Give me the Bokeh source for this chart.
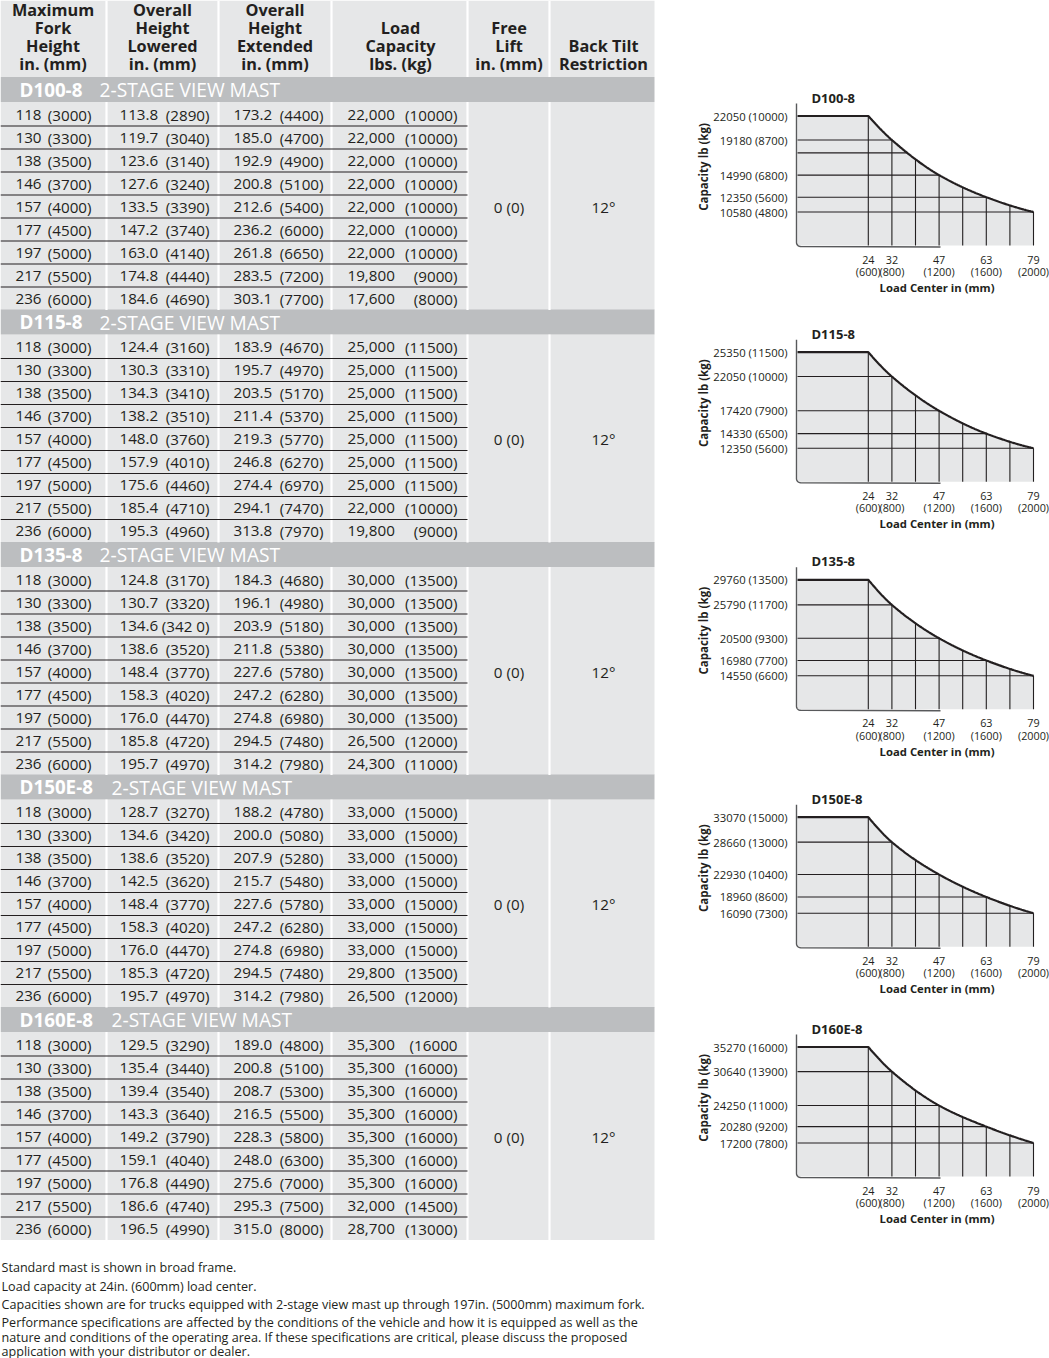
import numpy as np
from bokeh.plotting import figure
from bokeh.layouts import row, column
from bokeh.models import FixedTicker, Range1d
from bokeh.core.properties import value
from bokeh.embed import file_html
from bokeh.resources import INLINE

# ---------------- data ----------------
models = ["D100-8", "D115-8", "D135-8", "D150E-8", "D160E-8"]
mast_name = "2-STAGE VIEW MAST"

header_fork = ["Maximum", "Fork", "Height", "in. (mm)"]
header_lowered = ["Overall", "Height", "Lowered", "in. (mm)"]
header_extended = ["Overall", "Height", "Extended", "in. (mm)"]
header_capacity = ["Load", "Capacity", "lbs. (kg)"]
header_free_lift = ["Free", "Lift", "in. (mm)"]
header_back_tilt = ["Back Tilt", "Restriction"]

fork_height = ["118 (3000)", "130 (3300)", "138 (3500)", "146 (3700)", "157 (4000)",
               "177 (4500)", "197 (5000)", "217 (5500)", "236 (6000)"]

height_lowered = {
    "D100-8": ["113.8 (2890)", "119.7 (3040)", "123.6 (3140)", "127.6 (3240)", "133.5 (3390)",
               "147.2 (3740)", "163.0 (4140)", "174.8 (4440)", "184.6 (4690)"],
    "D115-8": ["124.4 (3160)", "130.3 (3310)", "134.3 (3410)", "138.2 (3510)", "148.0 (3760)",
               "157.9 (4010)", "175.6 (4460)", "185.4 (4710)", "195.3 (4960)"],
    "D135-8": ["124.8 (3170)", "130.7 (3320)", "134.6 (342 0)", "138.6 (3520)", "148.4 (3770)",
               "158.3 (4020)", "176.0 (4470)", "185.8 (4720)", "195.7 (4970)"],
    "D150E-8": ["128.7 (3270)", "134.6 (3420)", "138.6 (3520)", "142.5 (3620)", "148.4 (3770)",
                "158.3 (4020)", "176.0 (4470)", "185.3 (4720)", "195.7 (4970)"],
    "D160E-8": ["129.5 (3290)", "135.4 (3440)", "139.4 (3540)", "143.3 (3640)", "149.2 (3790)",
                "159.1 (4040)", "176.8 (4490)", "186.6 (4740)", "196.5 (4990)"],
}

height_extended = {
    "D100-8": ["173.2 (4400)", "185.0 (4700)", "192.9 (4900)", "200.8 (5100)", "212.6 (5400)",
               "236.2 (6000)", "261.8 (6650)", "283.5 (7200)", "303.1 (7700)"],
    "D115-8": ["183.9 (4670)", "195.7 (4970)", "203.5 (5170)", "211.4 (5370)", "219.3 (5770)",
               "246.8 (6270)", "274.4 (6970)", "294.1 (7470)", "313.8 (7970)"],
    "D135-8": ["184.3 (4680)", "196.1 (4980)", "203.9 (5180)", "211.8 (5380)", "227.6 (5780)",
               "247.2 (6280)", "274.8 (6980)", "294.5 (7480)", "314.2 (7980)"],
    "D150E-8": ["188.2 (4780)", "200.0 (5080)", "207.9 (5280)", "215.7 (5480)", "227.6 (5780)",
                "247.2 (6280)", "274.8 (6980)", "294.5 (7480)", "314.2 (7980)"],
    "D160E-8": ["189.0 (4800)", "200.8 (5100)", "208.7 (5300)", "216.5 (5500)", "228.3 (5800)",
                "248.0 (6300)", "275.6 (7000)", "295.3 (7500)", "315.0 (8000)"],
}

load_capacity = {
    "D100-8": ["22,000 (10000)"] * 7 + ["19,800 (9000)", "17,600 (8000)"],
    "D115-8": ["25,000 (11500)"] * 7 + ["22,000 (10000)", "19,800 (9000)"],
    "D135-8": ["30,000 (13500)"] * 7 + ["26,500 (12000)", "24,300 (11000)"],
    "D150E-8": ["33,000 (15000)"] * 7 + ["29,800 (13500)", "26,500 (12000)"],
    "D160E-8": ["35,300 (16000"] + ["35,300 (16000)"] * 6 + ["32,000 (14500)", "28,700 (13000)"],
}

free_lift = "0 (0)"
back_tilt = "12\u00b0"

notes = [
    "Standard mast is shown in broad frame.",
    "Load capacity at 24in. (600mm) load center.",
    "Capacities shown are for trucks equipped with 2-stage view mast up through 197in. (5000mm) maximum fork.",
    "Performance specifications are affected by the conditions of the vehicle and how it is equipped as well as the",
    "nature and conditions of the operating area. If these specifications are critical, please discuss the proposed",
    "application with your distributor or dealer.",
]

# capacity charts
load_center_in = [24, 32, 47, 63, 79]
load_center_mm = [600, 800, 1200, 1600, 2000]
capacity_lb = {
    "D100-8": [22050, 19180, 14990, 12350, 10580],
    "D115-8": [25350, 22050, 17420, 14330, 12350],
    "D135-8": [29760, 25790, 20500, 16980, 14550],
    "D150E-8": [33070, 28660, 22930, 18960, 16090],
    "D160E-8": [35270, 30640, 24250, 20280, 17200],
}
capacity_kg = {
    "D100-8": [10000, 8700, 6800, 5600, 4800],
    "D115-8": [11500, 10000, 7900, 6500, 5600],
    "D135-8": [13500, 11700, 9300, 7700, 6600],
    "D150E-8": [15000, 13000, 10400, 8600, 7300],
    "D160E-8": [16000, 13900, 11000, 9200, 7800],
}
extra_grid_lb = {"D100-8": [17640]}
grid_mm = [600, 800, 1000, 1200, 1400, 1600, 1800, 2000]
chart_y_label = "Capacity  lb (kg)"
chart_x_label = "Load Center  in (mm)"

# ---------------- style ----------------
FONT = "Open Sans"
TXT = "#231f20"
CELL = "#e6e7e8"
BAND = "#bcbec0"
PAGE_W, PAGE_H = 1049, 1358

# table geometry (pixels)
TABLE_W = 665
SEP_X = [106, 218, 331, 467, 549]
TABLE_R = 654
HEADER_B = 76.5
HEADER_LINE_Y = [9.8, 27.8, 45.8, 63.8]
HEAD_CX = [52.5, 162, 274.5, 400, 508.5, 603]
BAND0 = 89
PITCH = 232.5
BAND_H = 12.5
ROW0 = 25
ROW_P = 23
NUM_L = [15, 119, 233, 347]
PAREN_R = [91, 209, 323, 457]
BAND_TITLE_X = 19
BAND_SUB_X = [99, 99, 99, 111, 111]
NOTE_Y = [1266.8, 1285.5, 1303.7, 1322, 1336.5, 1351.3]

# ---------------- table figure ----------------
t = figure(width=TABLE_W, height=PAGE_H, x_range=Range1d(0, TABLE_W), y_range=Range1d(PAGE_H, 0),
           output_backend="svg", toolbar_location=None, x_axis_type=None, y_axis_type=None,
           min_border=0, outline_line_color=None)
t.xgrid.visible = False
t.ygrid.visible = False

t.quad(left=[0], right=[TABLE_R], top=[0], bottom=[HEADER_B], fill_color=CELL, line_color=None)
band_y = [BAND0 + PITCH * k for k in range(len(models))]
n_rows = len(fork_height)
sec_top = [b + BAND_H for b in band_y]
sec_bot = [b + ROW0 + ROW_P * (n_rows - 1) + ROW_P / 2 for b in band_y]
t.quad(left=0, right=TABLE_R, top=sec_top, bottom=sec_bot, fill_color=CELL, line_color=None)
t.quad(left=0, right=TABLE_R, top=[b - BAND_H for b in band_y], bottom=sec_top,
       fill_color=BAND, line_color=None)

sx0, sy0, sx1, sy1 = [], [], [], []
for x in SEP_X:
    sx0.append(x); sx1.append(x); sy0.append(0); sy1.append(HEADER_B)
    for a, b in zip(sec_top, sec_bot):
        sx0.append(x); sx1.append(x); sy0.append(a); sy1.append(b)
t.segment(x0=sx0, y0=sy0, x1=sx1, y1=sy1, line_color="white", line_width=2.2)

lx0, ly, lx1 = [], [], []
for b in band_y:
    for j in range(n_rows - 1):
        yy = b + ROW0 + ROW_P * j + ROW_P / 2
        lx0.append(0); lx1.append(SEP_X[3]); ly.append(yy)
t.segment(x0=lx0, y0=ly, x1=lx1, y1=ly, line_color=TXT, line_width=1.2)

headers = [header_fork, header_lowered, header_extended, header_capacity,
           header_free_lift, header_back_tilt]
hx, hy, ht = [], [], []
for c, lines in enumerate(headers):
    n = len(lines)
    for k, s_ in enumerate(lines):
        hx.append(HEAD_CX[c]); hy.append(HEADER_LINE_Y[4 - n + k]); ht.append(s_)
t.text(x=hx, y=hy, text=ht, text_font=value(FONT), text_font_style="bold",
       text_font_size=value("16.3px"), text_color=TXT, text_align="center", text_baseline="middle")

t.text(x=[BAND_TITLE_X] * len(models), y=band_y, text=models, text_font=value(FONT),
       text_font_style="bold", text_font_size=value("18.8px"), text_color="white",
       text_align="left", text_baseline="middle")
t.text(x=BAND_SUB_X, y=band_y, text=[mast_name] * len(models), text_font=value(FONT),
       text_font_size=value("19.2px"), text_color="white", text_align="left", text_baseline="middle")

nx, ny, nt, px_, py, pt = [], [], [], [], [], []
cx, cy, ct = [], [], []
for k, m in enumerate(models):
    cols = [fork_height, height_lowered[m], height_extended[m], load_capacity[m]]
    for j in range(n_rows):
        yy = band_y[k] + ROW0 + ROW_P * j
        for c, col in enumerate(cols):
            num, par = col[j].split(" ", 1)
            nx.append(NUM_L[c]); ny.append(yy); nt.append(num)
            px_.append(PAREN_R[c]); py.append(yy); pt.append(par)
    ymid = band_y[k] + ROW0 + ROW_P * (n_rows // 2)
    cx += [HEAD_CX[4], HEAD_CX[5]]; cy += [ymid, ymid]; ct += [free_lift, back_tilt]
for xs_, ys_, ts_, al in [(nx, ny, nt, "left"), (px_, py, pt, "right"), (cx, cy, ct, "center")]:
    t.text(x=xs_, y=ys_, text=ts_, text_font=value(FONT), text_font_size=value("15.2px"),
           text_color=TXT, text_align=al, text_baseline="middle")

t.text(x=[1] * len(notes), y=NOTE_Y, text=notes, text_font=value(FONT), text_font_size=value("12.6px"),
       text_color=TXT, text_align="left", text_baseline="middle")

# ---------------- capacity charts ----------------
def pchip(xs, ys, xq):
    xs = np.asarray(xs, float); ys = np.asarray(ys, float); xq = np.asarray(xq, float)
    h = np.diff(xs); d = np.diff(ys) / h
    n = len(xs); m = np.zeros(n)
    for k in range(1, n - 1):
        if d[k - 1] * d[k] <= 0:
            m[k] = 0.0
        else:
            w1 = 2 * h[k] + h[k - 1]; w2 = h[k] + 2 * h[k - 1]
            m[k] = (w1 + w2) / (w1 / d[k - 1] + w2 / d[k])
    m[0] = ((2 * h[0] + h[1]) * d[0] - h[0] * d[1]) / (h[0] + h[1])
    if np.sign(m[0]) != np.sign(d[0]):
        m[0] = 0
    m[-1] = ((2 * h[-1] + h[-2]) * d[-1] - h[-1] * d[-2]) / (h[-1] + h[-2])
    if np.sign(m[-1]) != np.sign(d[-1]):
        m[-1] = 0
    idx = np.clip(np.searchsorted(xs, xq) - 1, 0, n - 2)
    tt = (xq - xs[idx]) / h[idx]
    h00 = 2 * tt**3 - 3 * tt**2 + 1; h10 = tt**3 - 2 * tt**2 + tt
    h01 = -2 * tt**3 + 3 * tt**2; h11 = tt**3 - tt**2
    return h00 * ys[idx] + h10 * h[idx] * m[idx] + h01 * ys[idx + 1] + h11 * h[idx] * m[idx + 1]

SEG = [0, 318, 548, 786, 1016, PAGE_H]
TOPVAL_Y = [115.5, 351.7, 579.3, 816.7, 1046.5]
AXIS_X = 797          # page x of the chart's left axis
PLOT_R = 1033         # page x of 2000 mm
TOP_TO_LAST = 96.0    # px between first and last capacity tick
CW = PAGE_W - TABLE_W
MMPP = 2000 / (PLOT_R - AXIS_X)

charts = []
for i, m in enumerate(models):
    lb = capacity_lb[m]; kg = capacity_kg[m]
    first, last = lb[0], lb[-1]
    lbpp = (first - last) / TOP_TO_LAST
    tv = TOPVAL_Y[i]
    ry = lambda Y: first - (Y - tv) * lbpp
    rx = lambda X: (X - AXIS_X) * MMPP
    y_g = ry(tv + 129.5)
    axis_top = ry(tv - 12.5)
    p = figure(width=CW, height=SEG[i + 1] - SEG[i],
               x_range=Range1d(rx(TABLE_W), rx(PAGE_W)), y_range=Range1d(ry(SEG[i + 1]), ry(SEG[i])),
               output_backend="svg", toolbar_location=None, min_border=0,
               outline_line_color=None, background_fill_color="white")
    p.xgrid.visible = False
    p.ygrid.visible = False

    xs_dense = np.linspace(load_center_mm[0], load_center_mm[-1], 240)
    ys_dense = pchip(load_center_mm, lb, xs_dense)
    cx_ = np.concatenate([[0], xs_dense]); cy_ = np.concatenate([[first], ys_dense])
    p.patch(x=np.concatenate([cx_, [load_center_mm[-1], 0]]),
            y=np.concatenate([cy_, [y_g, y_g]]), fill_color=CELL, line_color=None)

    vx = np.array(grid_mm, float)
    vy = pchip(load_center_mm, lb, vx)
    p.segment(x0=vx, y0=[y_g] * len(vx), x1=vx, y1=vy, line_color=TXT, line_width=1.1)
    hvals = list(lb[1:]) + extra_grid_lb.get(m, [])
    hx_end = np.interp(hvals, ys_dense[::-1], xs_dense[::-1])
    p.segment(x0=[0] * len(hvals), y0=hvals, x1=hx_end, y1=hvals, line_color=TXT, line_width=1.1)

    p.line(x=cx_, y=cy_, line_color=TXT, line_width=2.2)

    # L-shaped frame with a rounded corner
    r = 4.0
    th = np.linspace(np.pi, 1.5 * np.pi, 10)
    fx = np.concatenate([[rx(AXIS_X - 1)], rx(AXIS_X - 1) + r * MMPP * (1 + np.cos(th)), [rx(940)]])
    fy = np.concatenate([[axis_top], y_g - 1 * lbpp + r * lbpp * (1 + np.sin(th)), [y_g - 1.5 * lbpp]])
    p.line(x=fx, y=fy, line_color="#58595b", line_width=1.4)

    ya = p.yaxis[0]
    ya.fixed_location = 0
    ya.ticker = FixedTicker(ticks=lb)
    ya.major_label_overrides = {v: f"{v} ({k})" for v, k in zip(lb, kg)}
    ya.axis_line_color = None
    ya.major_tick_in = 0; ya.major_tick_out = 0
    ya.minor_tick_line_color = None
    ya.major_label_standoff = 10
    ya.major_label_text_font = FONT
    ya.major_label_text_font_size = "11.3px"
    ya.major_label_text_color = TXT

    xa = p.xaxis[0]
    xa.fixed_location = y_g
    xa.ticker = FixedTicker(ticks=load_center_mm)
    xa.major_label_overrides = {mm: f"{inch}\n({mm})" for inch, mm in zip(load_center_in, load_center_mm)}
    xa.axis_line_color = None
    xa.major_tick_in = 0; xa.major_tick_out = 0
    xa.minor_tick_line_color = None
    xa.major_label_standoff = 6
    xa.major_label_text_font = FONT
    xa.major_label_text_font_size = "10.8px"
    xa.major_label_text_color = TXT
    xa.major_label_text_line_height = 0.84

    p.text(x=[rx(811)], y=[ry(tv - 18.5)], text=[m], text_font=value(FONT), text_font_style="bold",
           text_font_size=value("13px"), text_color=TXT, text_align="left", text_baseline="middle")
    p.text(x=[rx(938)], y=[ry(tv + 171.5)], text=[chart_x_label], text_font=value(FONT),
           text_font_style="bold", text_font_size=value("11.3px"), text_color=TXT,
           text_align="center", text_baseline="middle")
    p.text(x=[rx(703)], y=[ry(tv + 49.5)], text=[chart_y_label], text_font=value(FONT),
           text_font_style="bold", text_font_size=value("11.5px"), text_color=TXT, angle=np.pi / 2,
           text_align="center", text_baseline="middle")
    charts.append(p)

layout = row(t, column(*charts, spacing=0), spacing=0)
open("out.html", "w").write(file_html(layout, INLINE))
